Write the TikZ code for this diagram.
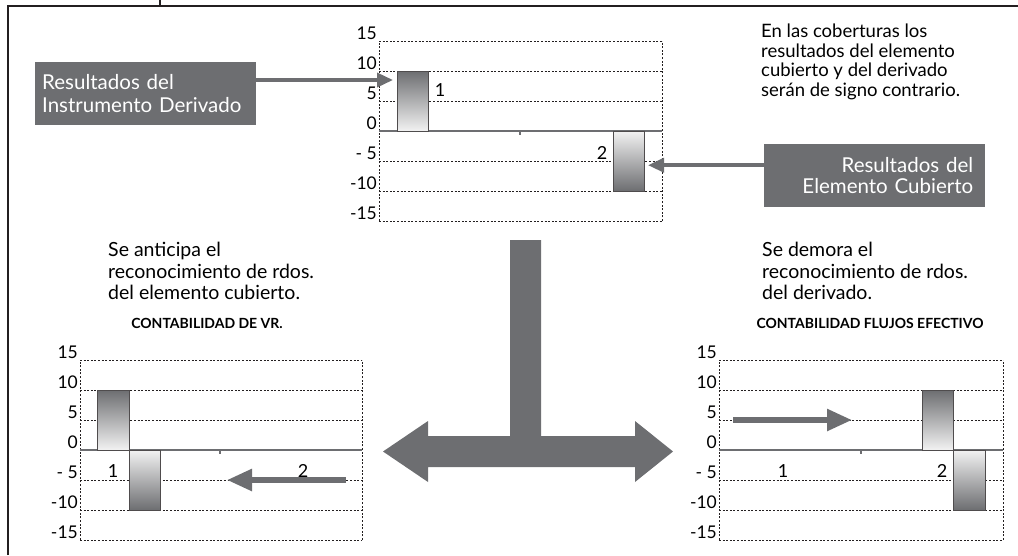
\documentclass[tikz,border=0pt]{standalone}
\usepackage{fontspec}
\setmainfont{Lato}
\usetikzlibrary{arrows.meta}
\definecolor{slate}{HTML}{6D6E71}
\definecolor{ink}{HTML}{231F20}
\definecolor{pale}{HTML}{F2F2F2}
\tikzset{
  frame/.style={ink, line width=1.4pt},
  gridline/.style={ink, line width=0.8pt, dash pattern=on 2pt off 1.6pt},
  zeroline/.style={slate, line width=1.2pt},
  bar/.style={draw=ink!80, line width=0.9pt},
  posbar/.style={bar, top color=slate, bottom color=pale},
  negbar/.style={bar, top color=pale, bottom color=slate},
  tag/.style={fill=slate, text=white, inner ysep=0pt, minimum height=63pt,
    text width=207pt, inner xsep=7pt},
  note/.style={inner sep=0pt, align=left, font=\fontsize{19.5}{21.5}\selectfont},
  charttitle/.style={inner sep=0pt, font=\bfseries\fontsize{14}{16}\selectfont},
  ylab/.style={anchor=base east, inner sep=0pt, font=\fontsize{17.5}{18}\selectfont},
  catlab/.style={inner sep=0pt, font=\fontsize{18}{18}\selectfont},
  conn/.style={slate, line width=3.5pt, -{Triangle[length=16pt, width=14pt]}},
  bigconn/.style={slate, line width=5.5pt, -{Triangle[length=25pt, width=21pt]}},
}
\begin{document}
\begin{tikzpicture}[x=1pt, y=-1pt]
  \useasboundingbox (0,0) rectangle (1018,555);
  \draw[frame] (8,555) -- (8,6) -- (1018,6);
  \draw[frame] (160,0) -- (160,6);

  % top chart
  \begin{scope}[shift={(379,131)}, yscale=-6]
    \foreach \v in {15,10,5,-5,-10,-15}
      \draw[gridline] (0,\v) -- (283,\v);
    \draw[gridline] (0,-15) -- (0,15) (283,-15) -- (283,15);
    \draw[zeroline] (0,0) -- (283,0) (141,0) -- (141,-0.6);
    \foreach \v/\t in {15/15,10/10,5/5,0/0,-5/{- 5},-10/-10,-15/-15}
      \node[ylab] at (-2,\v+0.2) {\t};
    \shadedraw[posbar] (18,0) rectangle (49,10);
    \shadedraw[negbar] (234,0) rectangle (265,-10);
    \node[catlab] (topone) at (61,6.8) {1};
    \node[catlab] (toptwo) at (223,-3.7) {2};
    \coordinate (hitderiv) at (14,8.5);
    \coordinate (hitcover) at (269,-5.7);
  \end{scope}

  \node[tag, anchor=north west, align=left,
    font=\fontsize{20.5}{22.5}\selectfont] (derivbox) at (35,62)
    {Resultados del\\Instrumento Derivado};
  \node[tag, anchor=north west, align=right, inner xsep=12pt, text width=197pt,
    font=\fontsize{20.5}{21}\selectfont] (coverbox) at (764,144)
    {Resultados del\\Elemento Cubierto};
  \draw[conn] (derivbox.east |- hitderiv) -- (hitderiv);
  \draw[conn] (coverbox.west |- hitcover) -- (hitcover);

  \node[note, anchor=north west, font=\fontsize{18.5}{19.5}\selectfont] (signnote) at (761,24)
    {En las coberturas los\\resultados del elemento\\cubierto y del derivado\\ser\'an de signo contrario.};

  % big T arrow
  \fill[slate] (510,240) -- (541,240) -- (541,436) -- (635,436) -- (635,421)
    -- (673,451.5) -- (635,482) -- (635,467) -- (428,467) -- (428,482)
    -- (383,451.5) -- (428,421) -- (428,436) -- (510,436) -- cycle;

  % bottom left chart
  \node[note, anchor=north west] (vrnote) at (108,242)
    {Se anticipa el\\reconocimiento de rdos.\\del elemento cubierto.};
  \node[charttitle, anchor=base] (vrtitle) at (207,328) {CONTABILIDAD DE VR.};
  \begin{scope}[shift={(80,450)}, yscale=-6]
    \foreach \v in {15,10,5,-5,-10,-15}
      \draw[gridline] (0,\v) -- (282,\v);
    \draw[gridline] (0,-15) -- (0,15) (282,-15) -- (282,15);
    \draw[zeroline] (0,0) -- (282,0) (140,0) -- (140,-0.6);
    \foreach \v/\t in {15/15,10/10,5/5,0/0,-5/{- 5},-10/-10,-15/-15}
      \node[ylab] at (-2,\v+0.2) {\t};
    \shadedraw[posbar] (17,0) rectangle (49,10);
    \shadedraw[negbar] (49,0) rectangle (80,-10);
    \node[catlab] (vrone) at (33,-3.5) {1};
    \node[catlab] (vrtwo) at (223,-3.5) {2};
    \coordinate (vrfrom) at (266,-5);
    \coordinate (vrto) at (147,-5);
  \end{scope}
  \draw[bigconn] (vrfrom) -- (vrto);

  % bottom right chart
  \node[note, anchor=north west] (cfnote) at (762,242)
    {Se demora el\\reconocimiento de rdos.\\del derivado.};
  \node[charttitle, anchor=base] (cftitle) at (870,328) {CONTABILIDAD FLUJOS EFECTIVO};
  \begin{scope}[shift={(719,450)}, yscale=-6]
    \foreach \v in {15,10,5,-5,-10,-15}
      \draw[gridline] (0,\v) -- (284,\v);
    \draw[gridline] (0,-15) -- (0,15) (284,-15) -- (284,15);
    \draw[zeroline] (0,0) -- (284,0) (142,0) -- (142,-0.6);
    \foreach \v/\t in {15/15,10/10,5/5,0/0,-5/{- 5},-10/-10,-15/-15}
      \node[ylab] at (-2,\v+0.2) {\t};
    \shadedraw[posbar] (203,0) rectangle (234,10);
    \shadedraw[negbar] (234,0) rectangle (266,-10);
    \node[catlab] (cfone) at (64,-3.5) {1};
    \node[catlab] (cftwo) at (223,-3.5) {2};
    \coordinate (cffrom) at (14,5);
    \coordinate (cfto) at (133,5);
  \end{scope}
  \draw[bigconn] (cffrom) -- (cfto);
\end{tikzpicture}
\end{document}
